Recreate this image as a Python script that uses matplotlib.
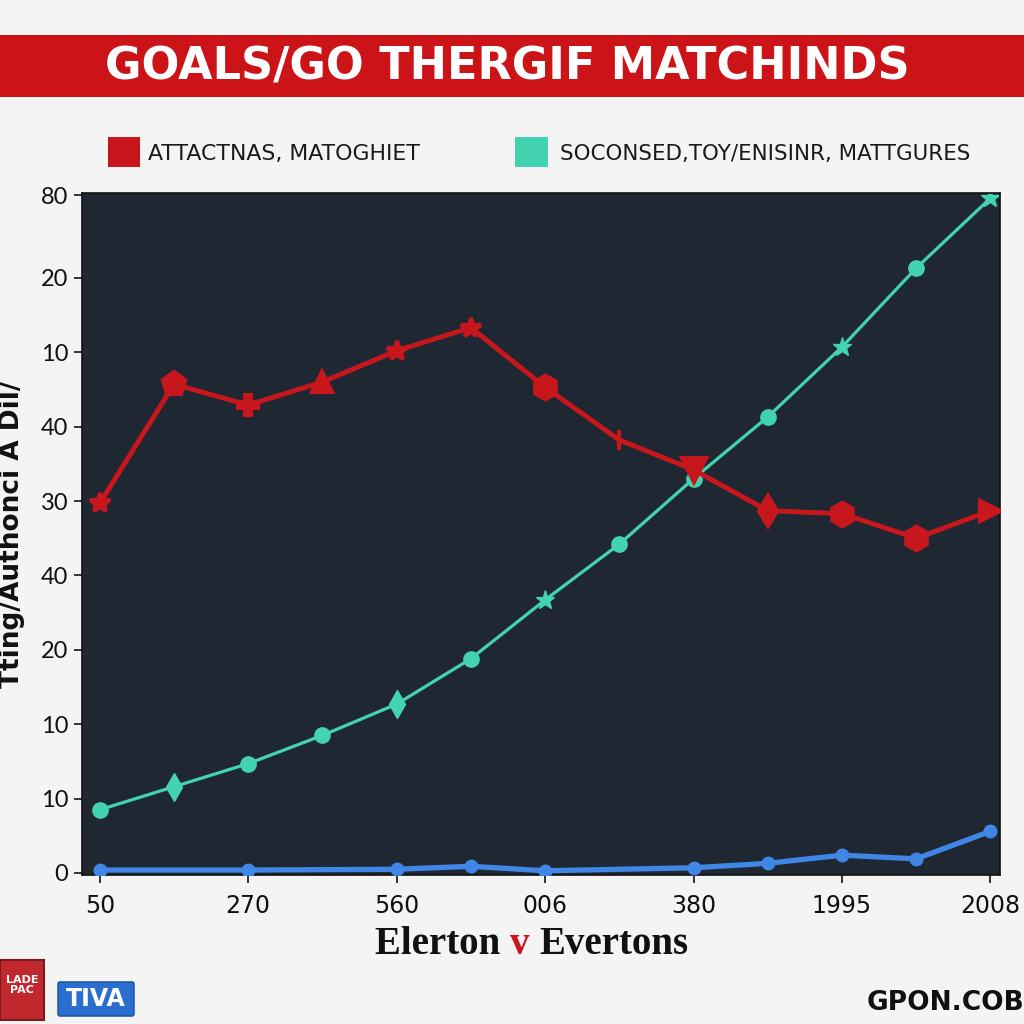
import matplotlib
matplotlib.use('Agg')
import matplotlib.pyplot as plt
from matplotlib.patches import Rectangle, FancyBboxPatch

# === DATA ===
idx = list(range(13))
red_vals = [49.7, 65.7, 62.9, 66.0, 70.2, 73.3, 65.3, 58.2, 54.2, 48.7, 48.3, 45.0, 48.7]
red_marks = ['*', 'p', 'P', '^', '*', '*', 'h', '|', 'v', 'd', 'h', 'h', '>']
teal_vals = [8.5, 11.6, 14.7, 18.5, 22.7, 28.8, 36.7, 44.2, 53.0, 61.3, 70.7, 81.3, 90.7]
teal_marks = ['o', 'd', 'o', 'o', 'd', 'o', '*', 'o', 'o', 'o', '*', 'o', '*']
blue_idx = [0, 2, 4, 5, 6, 8, 9, 10, 11, 12]
blue_vals = [0.4, 0.4, 0.5, 0.9, 0.3, 0.7, 1.3, 2.4, 1.9, 5.6]

xtick_pos = [0, 2, 4, 6, 8, 10, 12]
xtick_labels = ['50', '270', '560', '006', '380', '1995', '2008']
ytick_pos = [0, 10, 20, 30, 40, 50, 60, 70, 80, 91.1]
ytick_labels = ['0', '10', '10', '20', '40', '30', '40', '10', '20', '80']

RED = '#c8161d'
TEAL = '#43d3b1'
BLUE = '#3f86e6'
BG = '#1f2733'

fig = plt.figure(figsize=(10.24, 10.24), dpi=100)
fig.patch.set_facecolor('#f4f4f4')

# title banner
fig.patches.append(Rectangle((0, 1 - 97/1024), 1, 62/1024, transform=fig.transFigure,
                             facecolor='#cc1418', edgecolor='none', zorder=0))
fig.text(0.495, 1 - 67/1024, 'GOALS/GO THERGIF MATCHINDS', ha='center', va='center',
         color='white', fontsize=32, fontweight='bold', family='DejaVu Sans')

# legend
fig.patches.append(Rectangle((108/1024, 1 - 167/1024), 32/1024, 30/1024,
                             transform=fig.transFigure, facecolor=RED, edgecolor='none'))
fig.patches.append(Rectangle((515/1024, 1 - 167/1024), 33/1024, 30/1024,
                             transform=fig.transFigure, facecolor=TEAL, edgecolor='none'))
fig.text(148/1024, 1 - 154/1024, 'ATTACTNAS, MATOGHIET', ha='left', va='center',
         fontsize=15.8, color='#1a1a1a', family='DejaVu Sans')
fig.text(560/1024, 1 - 154/1024, 'SOCONSED,TOY/ENISINR, MATTGURES', ha='left', va='center',
         fontsize=15.4, color='#1a1a1a', family='DejaVu Sans')

ax = fig.add_axes([82/1024, 1 - 875/1024, 918/1024, 682/1024])
ax.set_facecolor(BG)

ax.plot(idx, red_vals, color=RED, linewidth=3.5, zorder=3)
for x, y, m in zip(idx, red_vals, red_marks):
    ax.plot(x, y, marker=m, color=RED, markersize=17 if m in ('h', 'p', 'v') else 15,
            markeredgewidth=3, zorder=4)

ax.plot(idx, teal_vals, color=TEAL, linewidth=2.3, zorder=2)
for x, y, m in zip(idx, teal_vals, teal_marks):
    ax.plot(x, y, marker=m, color=TEAL, markersize=11 if m == 'o' else 14, zorder=2)

ax.plot(blue_idx, blue_vals, color=BLUE, linewidth=3.8, marker='o', markersize=9, zorder=3)

ax.set_xlim(-0.24, 12.13)
ax.set_ylim(-0.27, 91.4)
ax.set_xticks(xtick_pos)
ax.set_xticklabels(xtick_labels, fontsize=17, family='DejaVu Sans')
ax.set_yticks(ytick_pos)
ax.set_yticklabels(ytick_labels, fontsize=17, family='Lato')
ax.tick_params(axis='both', colors='#111111', length=6, width=1.2, pad=8)
ax.tick_params(axis='y', pad=4)
for s in ax.spines.values():
    s.set_color('#111111')
    s.set_linewidth(1.2)

ax.set_ylabel('Tting/Authonci A Dil/', fontsize=19, fontweight='bold',
              family='DejaVu Sans', color='#111111')
ax.yaxis.set_label_coords(-0.062, 0.5)

# x label with red "v"
xl_y = 1 - 954/1024
t1 = fig.text(375/1024, xl_y, 'Elerton ', ha='left', va='baseline', fontsize=28,
              fontweight='bold', family='Liberation Serif', color='#111111')
t2 = fig.text(0, xl_y, 'v ', va='baseline', fontsize=28, fontweight='bold',
              family='Liberation Serif', color=RED)
t3 = fig.text(0, xl_y, 'Evertons', va='baseline', fontsize=28, fontweight='bold',
              family='Liberation Serif', color='#111111')
fig.canvas.draw()
r = fig.canvas.get_renderer()
bb1 = t1.get_window_extent(r)
t2.set_x(bb1.x1 / fig.bbox.width)
bb2 = t2.get_window_extent(r)
t3.set_x(bb2.x1 / fig.bbox.width)

# bottom logos
fig.patches.append(Rectangle((0, 1 - 1020/1024), 44/1024, 60/1024, transform=fig.transFigure,
                             facecolor='#c0282d', edgecolor='#7a1a1d', linewidth=1.5))
fig.text(22/1024, 1 - 985/1024, 'LADE\nPAC', ha='center', va='center', fontsize=8,
         color='white', fontweight='bold', linespacing=0.9)
fig.patches.append(FancyBboxPatch((60/1024, 1 - 1014/1024), 72/1024, 30/1024,
                                  boxstyle='round,pad=0.002', transform=fig.transFigure,
                                  facecolor='#2a6fd0', edgecolor='#1d4f9a'))
fig.text(96/1024, 1 - 999/1024, 'TIVA', ha='center', va='center', fontsize=17,
         color='white', fontweight='bold', family='DejaVu Sans')
fig.text(1.0, 1 - 1003/1024, 'GPON.COB', ha='right', va='center', fontsize=19,
         color='#111111', fontweight='bold', family='DejaVu Sans')

fig.savefig('out.png', dpi=100)
